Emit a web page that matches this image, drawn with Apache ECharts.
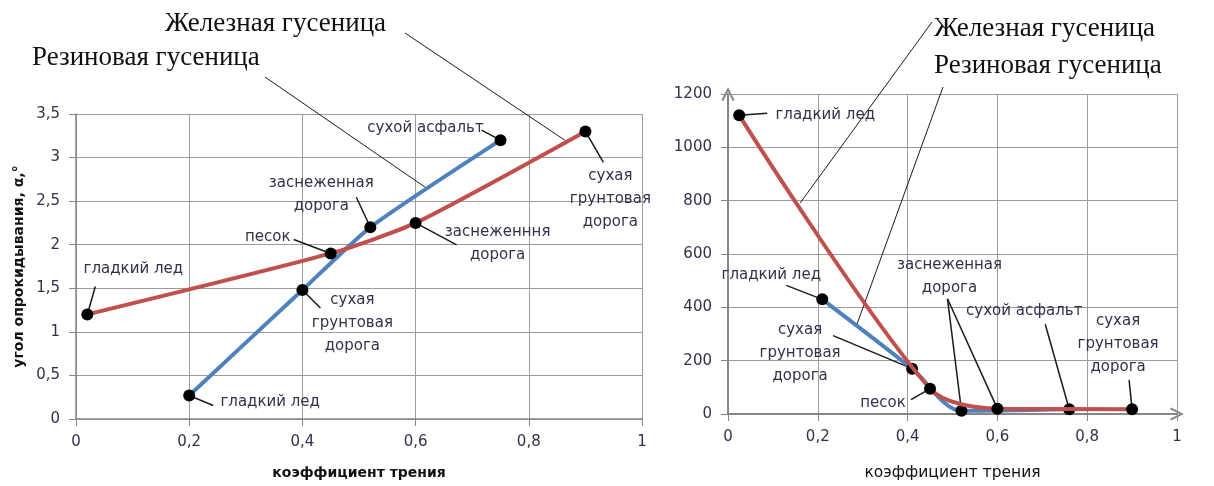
<!DOCTYPE html>
<html>
<head>
<meta charset="utf-8">
<script src="https://cdn.jsdelivr.net/npm/echarts@6/dist/echarts.min.js"></script>
<style>
  html, body { margin: 0; padding: 0; background: #fff; }
  #chart { width: 1214px; height: 486px; }
</style>
</head>
<body>
<div id="chart"></div>
<script>
// Tipping angle (left) and second characteristic (right) versus friction coefficient
const ironName = 'Железная гусеница';
const rubberName = 'Резиновая гусеница';
const xTitle = 'коэффициент трения';
const yTitleLeft = 'угол опрокидывания, α,°';

// Left chart values
const rubberLeftX = [0.2, 0.4, 0.52, 0.75];
const rubberLeftY = [0.27, 1.48, 2.2, 3.2];
const ironLeftX = [0.02, 0.45, 0.6, 0.9];
const ironLeftY = [1.2, 1.9, 2.25, 3.3];
const rubberLeftNames = ['гладкий лед', 'сухая\nгрунтовая\nдорога', 'заснеженная\nдорога', 'сухой асфальт'];
const ironLeftNames = ['гладкий лед', 'песок', 'заснеженння\nдорога', 'сухая\nгрунтовая\nдорога'];

// Right chart values
const rubberRightX = [0.21, 0.41, 0.52, 0.76];
const rubberRightY = [430, 170, 12, 18];
const ironRightX = [0.025, 0.45, 0.6, 0.9];
const ironRightY = [1120, 95, 20, 18];
const rubberRightNames = ['гладкий лед', 'сухая\nгрунтовая\nдорога', 'заснеженная\nдорога', 'сухой асфальт'];
const ironRightNames = ['гладкий лед', 'песок', null, 'сухая\nгрунтовая\nдорога'];

const zip = (xs, ys) => xs.map((x, i) => [x, ys[i]]);
const comma = v => String(v).replace('.', ',');

const RED = '#C0504D';
const BLUE = '#4F81BD';
const GRIDC = '#9c9c9c';
const AXISC = '#868686';
const TXT = '#35304a';
const LABEL_FONT = '15px "DejaVu Sans"';
// open chevron used as the arrow head of the right chart's axes
const CHEVRON = 'path://M0,10 L5,0 L10,10 L8.6,10.8 L5,3.4 L1.4,10.8 Z';

// Callout placement: box = label centre offset from its point, tail = leader end offset
const callouts = {
  left: {
    rubber: [
      { box: [81, 7], tail: [24, 10] },
      { box: [50, 33], tail: [18, 18] },
      { box: [-49, -33], tail: [-14, -30] },
      { box: [-75, -12], tail: [-19, -10] }
    ],
    iron: [
      { box: [46, -45], tail: [8, -28] },
      { box: [-63, -16], tail: [-37, -14] },
      { box: [82, 21], tail: [41, 22] },
      { box: [25, 68], tail: [18, 31] }
    ]
  },
  right: {
    rubber: [
      { box: [-51, -24], tail: [-36, -14] },
      { box: [-112, -16], tail: [-79, -33] },
      { box: [-12, -134], tail: [-14, -112] },
      { box: [-45, -98], tail: [-24, -85] }
    ],
    iron: [
      { box: [86, 0], tail: [28, -2] },
      { box: [-47, 14], tail: [-19, 11] },
      { tailFrom: 2 },
      { box: [-14, -65], tail: [-3, -29] }
    ]
  }
};

// Series-name captions: text position, leader start, and where on a segment the leader ends
const captions = [
  { grid: 0, text: ironName, x: 165, y: 24, from: [405, 33], series: 'iron', seg: 2, t: 0.89 },
  { grid: 0, text: rubberName, x: 32, y: 58, from: [265, 77], series: 'rubber', seg: 2, t: 0.44 },
  { grid: 1, text: ironName, x: 934, y: 29, from: [932, 22], series: 'iron', seg: 0, t: 0.32 },
  { grid: 1, text: rubberName, x: 934, y: 66, from: [943, 87], series: 'rubber', seg: 0, t: 0.38 }
];

function valueAxis(gridIndex, min, max, interval, fmt, extra) {
  return Object.assign({
    type: 'value', gridIndex, min, max, interval,
    axisLine: { show: true, lineStyle: { color: AXISC, width: 1.5 } },
    axisTick: { show: true, length: 7, lineStyle: { color: AXISC } },
    splitLine: { show: true, lineStyle: { color: GRIDC, width: 1 } },
    axisLabel: { color: TXT, fontFamily: 'DejaVu Sans', fontSize: 15, formatter: fmt, margin: 16 }
  }, extra || {});
}

function lineSeries(name, data, color, xi, smooth) {
  return {
    type: 'line', name, data, xAxisIndex: xi, yAxisIndex: xi,
    smooth,
    lineStyle: { color, width: 4 },
    itemStyle: { color: '#000' },
    symbol: 'circle', symbolSize: 12,
    emphasis: { disabled: true },
    z: name === ironName ? 4 : 3
  };
}

const chart = echarts.init(document.getElementById('chart'), null, { renderer: 'canvas' });

const arrowLine = { show: true, symbol: ['none', CHEVRON], symbolSize: [14, 14], lineStyle: { color: AXISC, width: 2 } };

const option = {
  animation: false,
  backgroundColor: '#fff',
  grid: [
    { left: 76, right: 572, top: 114, bottom: 67 },
    { left: 728, right: 37, top: 94, bottom: 69 }
  ],
  xAxis: [
    valueAxis(0, 0, 1, 0.2, comma, {
      name: xTitle, nameLocation: 'middle', nameGap: 47,
      nameTextStyle: { color: '#111', fontFamily: 'DejaVu Sans', fontSize: 14, fontWeight: 'bold' }
    }),
    valueAxis(1, 0, 1, 0.2, comma, {
      name: xTitle, nameLocation: 'middle', nameGap: 51,
      nameTextStyle: { color: '#111', fontFamily: 'DejaVu Sans', fontSize: 15.5 },
      axisLine: arrowLine
    })
  ],
  yAxis: [
    valueAxis(0, 0, 3.5, 0.5, comma, {
      name: yTitleLeft, nameLocation: 'middle', nameGap: 50,
      nameTextStyle: { color: '#111', fontFamily: 'DejaVu Sans', fontSize: 14, fontWeight: 'bold' }
    }),
    valueAxis(1, 0, 1200, 200, v => String(v), { axisLine: arrowLine })
  ],
  series: [
    lineSeries(rubberName, zip(rubberLeftX, rubberLeftY), BLUE, 0, 0.2),
    lineSeries(ironName, zip(ironLeftX, ironLeftY), RED, 0, 0.2),
    lineSeries(rubberName, zip(rubberRightX, rubberRightY), BLUE, 1, 0.3),
    lineSeries(ironName, zip(ironRightX, ironRightY), RED, 1, 0.3)
  ]
};

chart.setOption(option);

// Build callouts and captions from the plotted points
const px = (g, p) => chart.convertToPixel({ gridIndex: g }, p);
const sets = [
  { key: 'left', g: 0, rubber: [rubberLeftX, rubberLeftY, rubberLeftNames], iron: [ironLeftX, ironLeftY, ironLeftNames] },
  { key: 'right', g: 1, rubber: [rubberRightX, rubberRightY, rubberRightNames], iron: [ironRightX, ironRightY, ironRightNames] }
];

const graphics = [];
const leader = (x1, y1, x2, y2, w) => graphics.push({
  type: 'line', z: 1, silent: true,
  shape: { x1, y1, x2, y2 },
  style: { stroke: '#1a1a1a', lineWidth: w }
});

sets.forEach(set => {
  ['rubber', 'iron'].forEach(sk => {
    const [xs, ys, names] = set[sk];
    xs.forEach((x, i) => {
      const c = callouts[set.key][sk][i];
      const p = px(set.g, [x, ys[i]]);
      if (c.tailFrom !== undefined) {
        const o = set.rubber;
        const q = px(set.g, [o[0][c.tailFrom], o[1][c.tailFrom]]);
        const ct = callouts[set.key].rubber[c.tailFrom];
        leader(q[0] + ct.tail[0], q[1] + ct.tail[1], p[0], p[1], 1.5);
        return;
      }
      leader(p[0], p[1], p[0] + c.tail[0], p[1] + c.tail[1], 1.5);
      graphics.push({
        type: 'text', z: 10, silent: true,
        style: {
          text: names[i], x: p[0] + c.box[0], y: p[1] + c.box[1],
          align: 'center', verticalAlign: 'middle',
          font: LABEL_FONT, fill: TXT, lineHeight: 23
        }
      });
    });
  });
});

captions.forEach(c => {
  const set = sets[c.grid][c.series];
  const xs = set[0], ys = set[1];
  const x = xs[c.seg] + (xs[c.seg + 1] - xs[c.seg]) * c.t;
  const y = ys[c.seg] + (ys[c.seg + 1] - ys[c.seg]) * c.t;
  const p = px(c.grid, [x, y]);
  leader(c.from[0], c.from[1], p[0], p[1], 1);
  graphics.push({
    type: 'text', z: 10, silent: true,
    style: {
      text: c.text, x: c.x, y: c.y, align: 'left', verticalAlign: 'middle',
      font: '27px "Liberation Serif"', fill: '#111'
    }
  });
});

chart.setOption({ graphic: graphics });
</script>
</body>
</html>
